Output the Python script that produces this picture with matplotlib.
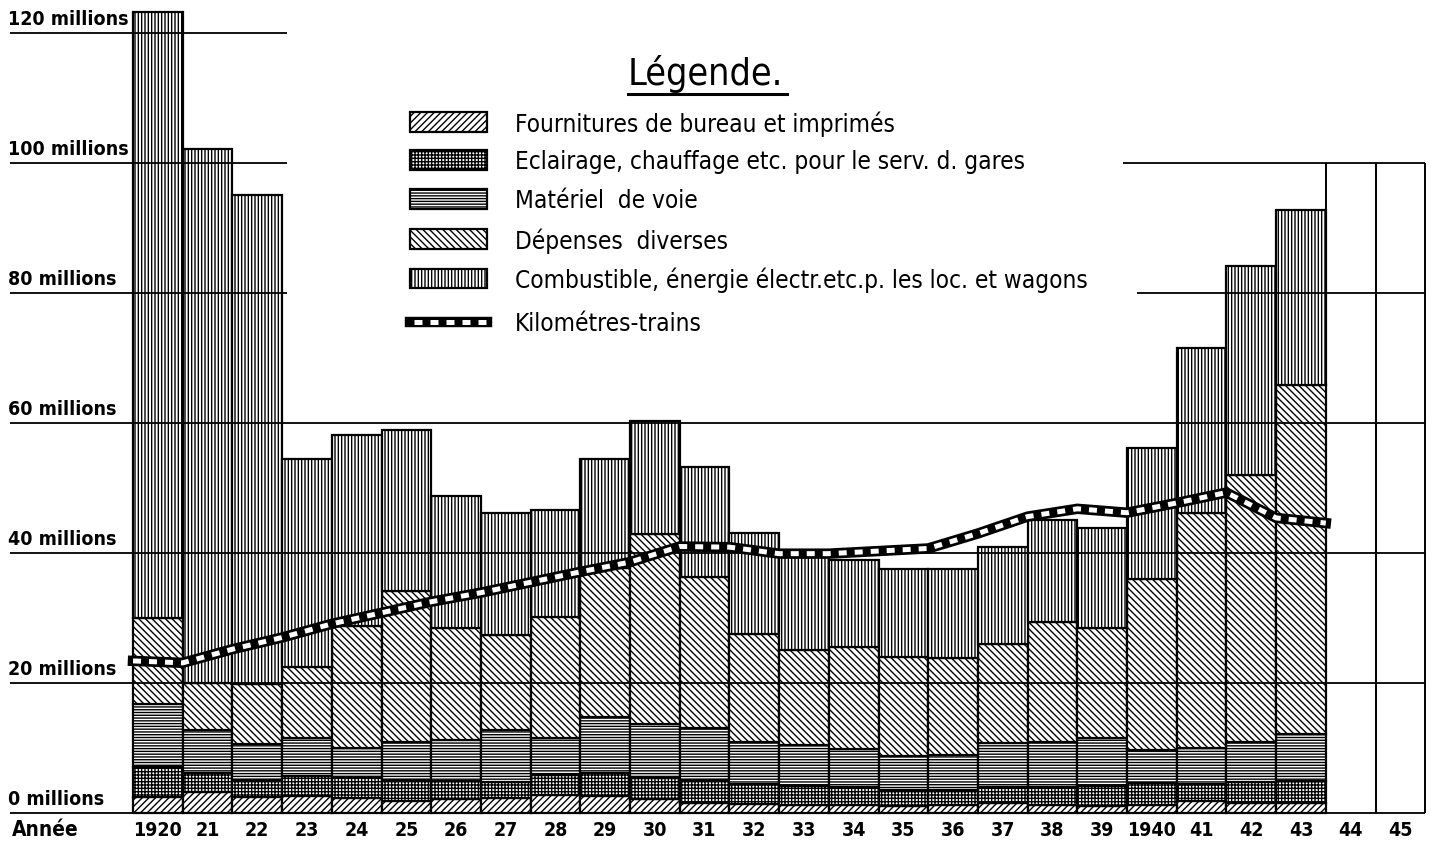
import numpy as np
import matplotlib
matplotlib.use("Agg")
import matplotlib.pyplot as plt
from matplotlib.patches import Rectangle
from matplotlib.lines import Line2D

# --- donnees (millions) ---
annees = ['1920', '21', '22', '23', '24', '25', '26', '27', '28', '29',
          '30', '31', '32', '33', '34', '35', '36', '37', '38', '39',
          '1940', '41', '42', '43']
annees_vides = ['44', '45']

fournitures = [2.5, 3.3, 2.4, 2.6, 2.3, 1.9, 2.2, 2.3, 2.8, 2.6,
               2.2, 1.6, 1.4, 1.2, 1.2, 1.1, 1.3, 1.6, 1.3, 1.1,
               1.2, 1.8, 1.6, 1.6]
eclairage = [4.6, 2.9, 2.7, 3.1, 3.2, 3.2, 2.7, 2.4, 3.1, 3.6,
             3.2, 3.5, 3.1, 2.9, 2.8, 2.5, 2.2, 2.4, 2.7, 3.1,
             3.4, 2.6, 3.2, 3.3]
materiel_voie = [9.6, 6.6, 5.5, 5.8, 4.5, 5.8, 6.3, 8.0, 5.7, 8.5,
                 8.3, 8.0, 6.5, 6.4, 5.8, 5.1, 5.4, 6.7, 7.0, 7.4,
                 5.1, 5.6, 6.1, 7.2]
depenses_diverses = [13.3, 7.2, 9.2, 11.0, 18.8, 23.3, 17.2, 14.7, 18.6, 23.0,
                     29.2, 23.2, 16.6, 14.6, 15.7, 15.3, 15.0, 15.3, 18.4, 16.8,
                     26.3, 36.1, 41.1, 53.7]
combustible = [93.3, 82.2, 75.3, 31.9, 29.4, 24.7, 20.4, 18.7, 16.4, 16.8,
               17.4, 16.9, 15.5, 14.4, 13.5, 13.6, 13.6, 14.9, 15.7, 15.4,
               20.2, 25.5, 32.2, 27.0]

# kilometres-trains (echelle du graphique), valeur de depart puis fin de chaque annee
km_debut = 23.4
km_trains = [23.1, 25.2, 27.0, 29.1, 30.8, 32.5, 33.9, 35.5, 37.1, 38.6,
             41.0, 40.9, 39.9, 39.9, 40.3, 40.7, 43.0, 45.6, 46.8, 46.2,
             47.7, 49.3, 45.4, 44.6]

niveaux = [0, 20, 40, 60, 80, 100, 120]

series = [
    ("Fournitures de bureau et imprimés", fournitures, '/////'),
    ("Eclairage, chauffage etc. pour le serv. d. gares", eclairage, '+++++'),
    ("Matériel  de voie", materiel_voie, '------'),
    ("Dépenses  diverses", depenses_diverses, '\\\\\\\\\\'),
    ("Combustible, énergie électr.etc.p. les loc. et wagons", combustible, '|||||'),
]

plt.rcParams['font.family'] = ['DejaVu Sans']
plt.rcParams['font.stretch'] = 'condensed'
plt.rcParams['hatch.linewidth'] = 1.0

W, H = 1433, 843
fig = plt.figure(figsize=(W / 100, H / 100), dpi=100)
ax = fig.add_axes([0, 0, 1, 1])
ax.axis('off')

# echelle : 49.7 px par annee, 6.5 px par million
px_an = 49.7
px_m = 6.5
x0 = -0.5 - 133 / px_an
ax.set_xlim(x0, x0 + W / px_an)
ax.set_ylim(-(H - 813) / px_m, 813 / px_m)

x = np.arange(len(annees))
bas = np.zeros(len(annees))
for nom, vals, motif in series:
    ax.bar(x, vals, bottom=bas, width=1, facecolor='white', edgecolor='black',
           hatch=motif, linewidth=1.6, zorder=2)
    bas = bas + np.array(vals)

# colonnes vides 44, 45
n = len(annees)
xv = np.arange(n, n + len(annees_vides) + 1) - 0.5
ax.vlines(xv, 0, 100, color='black', lw=1.4, zorder=3)

# lignes des millions (interrompues autour de la legende)
x_gauche = x0 + 10 / px_an
x_droite = n + len(annees_vides) - 0.5
for v in niveaux:
    if v <= 60:
        ax.hlines(v, x_gauche, x_droite, color='black', lw=1.3, zorder=3)
    else:
        ax.hlines(v, x_gauche, 2.6, color='black', lw=1.3, zorder=3)
        if v == 80:
            ax.hlines(v, 19.7, x_droite, color='black', lw=1.3, zorder=3)
        if v == 100:
            ax.hlines(v, 19.42, x_droite, color='black', lw=1.3, zorder=3)
    ax.text(x_gauche - 0.04, v + 0.6, f"{v} millions", ha='left', va='bottom',
            fontsize=14, fontweight='bold', zorder=4)

# kilometres-trains
xk = np.concatenate([[-0.5], x + 0.5])
yk = np.concatenate([[km_debut], km_trains])
ax.plot(xk, yk, color='black', lw=7.5, solid_joinstyle='miter', zorder=5)
ax.plot(xk, yk, color='white', lw=3.6, dashes=(1.6, 1.6), zorder=6)

# axe des annees
y_lab = -(830 - 813) / px_m
ax.text(x0 + 12 / px_an, y_lab, "Année", ha='left', va='center',
        fontsize=15, fontweight='bold')
for i, a in enumerate(annees + annees_vides):
    ax.text(i, y_lab, a, ha='center', va='center', fontsize=14, fontweight='bold')

# legende
def fx(px):
    return px / W

def fy(py):
    return 1 - py / H

ax.text(fx(628), fy(74), "Légende.", transform=ax.transAxes, ha='left',
        va='center', fontsize=27)
ax.add_line(Line2D([fx(628), fx(787)], [fy(94), fy(94)], transform=ax.transAxes,
                   color='black', lw=2.2))
rangs = [122, 160, 199, 239, 278]
for (nom, vals, motif), r in zip(series, rangs):
    ax.add_patch(Rectangle((fx(410), fy(r + 9.5)), fx(77), 19 / H,
                           transform=ax.transAxes, facecolor='white',
                           edgecolor='black', hatch=motif, lw=1.6))
    ax.text(fx(515), fy(r + 2), nom, transform=ax.transAxes, ha='left',
            va='center', fontsize=17.5)
ax.add_line(Line2D([fx(410), fx(487)], [fy(322), fy(322)], transform=ax.transAxes,
                   color='black', lw=7.5))
ax.add_line(Line2D([fx(414), fx(487)], [fy(322), fy(322)], transform=ax.transAxes,
                   color='white', lw=3.6, dashes=(1.6, 1.6)))
ax.text(fx(515), fy(324), "Kilométres-trains", transform=ax.transAxes, ha='left',
        va='center', fontsize=17.5)

fig.savefig("out.png", dpi=100, facecolor='white')
